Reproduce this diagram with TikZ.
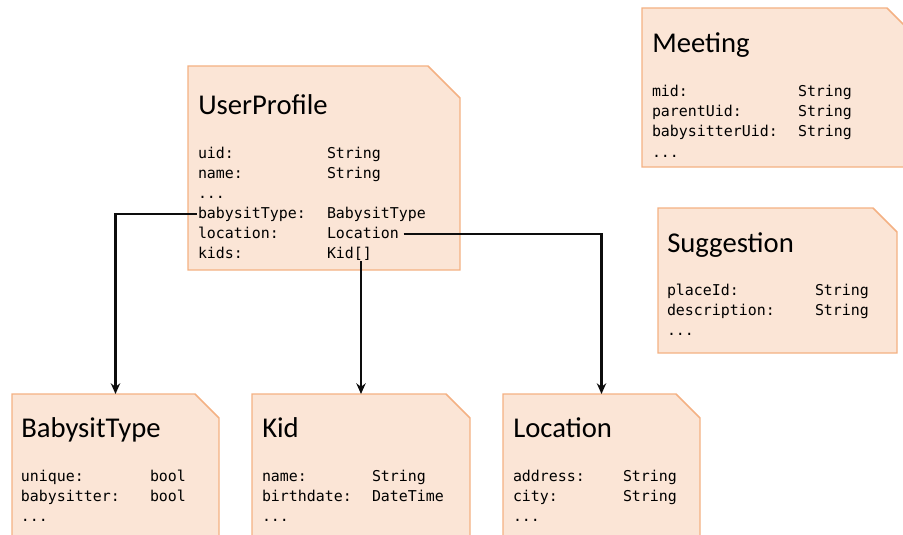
\documentclass[tikz,border=0pt]{standalone}
\usepackage{fontspec}
\usetikzlibrary{fit,arrows.meta}
\newfontfamily\titlefont{Carlito}
\newfontfamily\codefont{DejaVu Sans Mono}
\definecolor{boxfill}{HTML}{FBE5D6}
\definecolor{boxedge}{HTML}{F4B183}
\definecolor{linkcol}{HTML}{0D0D0D}

\tikzset{
  boxarea/.style={inner sep=0pt, outer sep=0pt},
  boxline/.style={fill=boxfill, draw=boxedge, line width=1.1pt},
  classtitle/.style={anchor=base west, inner sep=0pt, font=\titlefont\fontsize{21.5}{24}\selectfont},
  field/.style={anchor=base west, inner sep=0pt, outer sep=0pt, text height=2ex, text depth=0.25em,
    font=\codefont\fontsize{11.2}{13}\selectfont},
  link/.style={draw=linkcol, line width=1.8pt, -{Stealth[length=8pt,width=7pt]}}
}

% class box outline with the top right corner cut off
\newcommand\chamferbox[2]{%
  \filldraw[boxline] (#1.south west) -- (#1.north west)
    -- ([xshift=-#2*0.75pt]#1.north east) -- ([yshift=-#2*0.75pt]#1.north east)
    -- (#1.south east) -- cycle;}

\begin{document}
\begin{tikzpicture}[x=0.75pt, y=-0.75pt]
\useasboundingbox (0,0) rectangle (903,535);
\clip (0,0) rectangle (903,535);

% box areas
\node[boxarea, fit={(188,66) (460,270)}] (upbox) {};
\node[boxarea, fit={(642,8) (915,167)}] (mtbox) {};
\node[boxarea, fit={(658,208) (897,353)}] (sgbox) {};
\node[boxarea, fit={(12,394) (219,548)}] (btbox) {};
\node[boxarea, fit={(252,394) (470,548)}] (kidbox) {};
\node[boxarea, fit={(503,394) (700,548)}] (locbox) {};

\chamferbox{upbox}{32}
\chamferbox{mtbox}{28}
\chamferbox{sgbox}{24}
\chamferbox{btbox}{24}
\chamferbox{kidbox}{24}
\chamferbox{locbox}{24}

% UserProfile
\node[classtitle] (uptitle) at (198,114) {UserProfile};
\node[field] (upk1) at (198,158) {uid:};
\node[field] (upv1) at (327,158) {String};
\node[field] (upk2) at (198,178) {name:};
\node[field] (upv2) at (327,178) {String};
\node[field] (upk3) at (198,198) {...};
\node[field] (upk4) at (198,218) {babysitType:};
\node[field] (upv4) at (327,218) {BabysitType};
\node[field] (upk5) at (198,238) {location:};
\node[field] (upv5) at (327,238) {Location};
\node[field] (upk6) at (198,258) {kids:};
\node[field] (upv6) at (327,258) {Kid[]};

% Meeting
\node[classtitle] (mttitle) at (652,53) {Meeting};
\node[field] (mtk1) at (652,97) {mid:};
\node[field] (mtv1) at (798,97) {String};
\node[field] (mtk2) at (652,117) {parentUid:};
\node[field] (mtv2) at (798,117) {String};
\node[field] (mtk3) at (652,137) {babysitterUid:};
\node[field] (mtv3) at (798,137) {String};
\node[field] (mtk4) at (652,157) {...};

% Suggestion
\node[classtitle] (sgtitle) at (667,252) {Suggestion};
\node[field] (sgk1) at (667,295) {placeId:};
\node[field] (sgv1) at (815,295) {String};
\node[field] (sgk2) at (667,315) {description:};
\node[field] (sgv2) at (815,315) {String};
\node[field] (sgk3) at (667,335) {...};

% BabysitType
\node[classtitle] (bttitle) at (21,437) {BabysitType};
\node[field] (btk1) at (21,481) {unique:};
\node[field] (btv1) at (150,481) {bool};
\node[field] (btk2) at (21,501) {babysitter:};
\node[field] (btv2) at (150,501) {bool};
\node[field] (btk3) at (21,521) {...};

% Kid
\node[classtitle] (kidtitle) at (262,437) {Kid};
\node[field] (kidk1) at (262,481) {name:};
\node[field] (kidv1) at (372,481) {String};
\node[field] (kidk2) at (262,501) {birthdate:};
\node[field] (kidv2) at (372,501) {DateTime};
\node[field] (kidk3) at (262,521) {...};

% Location
\node[classtitle] (loctitle) at (513,437) {Location};
\node[field] (lock1) at (513,481) {address:};
\node[field] (locv1) at (623,481) {String};
\node[field] (lock2) at (513,501) {city:};
\node[field] (locv2) at (623,501) {String};
\node[field] (lock3) at (513,521) {...};

% references from UserProfile to its field types
\draw[link] ([xshift=-1pt]upk4.west) -| (btbox.north);
\draw[link] (kidbox.north |- upv6.south) -- (kidbox.north);
\draw[link] ([xshift=3.5pt]upv5.east) -| (locbox.north);
\end{tikzpicture}
\end{document}
